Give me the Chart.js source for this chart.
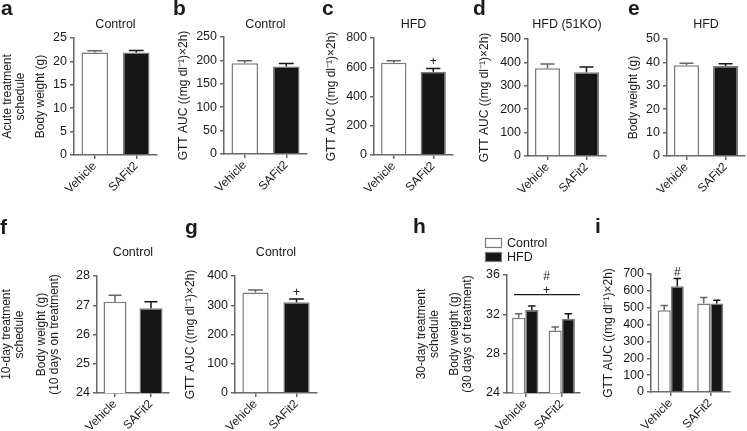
<!DOCTYPE html>
<html>
<head>
<meta charset="utf-8">
<script src="https://cdn.jsdelivr.net/npm/chart.js@4.4.1/dist/chart.umd.min.js"></script>
<style>
  html, body { margin: 0; padding: 0; background: #fff; }
  #fig { position: relative; width: 747px; height: 431px; overflow: hidden; }
  #fig canvas { position: absolute; }
</style>
</head>
<body>
<div id="fig"></div>
<script>
// valores
const categories = ['Vehicle', 'SAFit2'];
const dietGroups = ['Control', 'HFD'];
const gttLabel = 'GTT AUC ((mg dl\u207B\u00B9)\u00D72h)';

// a: agudo, peso control
const acuteBW = [21.9, 21.9];
const acuteBWErr = [0.35, 0.45];
// b: agudo, GTT control
const acuteGttCtrl = [194, 187];
const acuteGttCtrlErr = [5, 6.5];
// c: agudo, GTT HFD
const acuteGttHfd = [630, 570];
const acuteGttHfdErr = [15, 22];
// d: agudo, GTT HFD (51KO)
const acuteGttKo = [375, 358];
const acuteGttKoErr = [18, 22];
// e: agudo, peso HFD
const acuteBWHfd = [38.8, 38.5];
const acuteBWHfdErr = [0.8, 0.9];
// f: 10 días, peso
const day10BW = [27.12, 26.9];
const day10BWErr = [0.22, 0.22];
// g: 10 días, GTT
const day10Gtt = [344, 310];
const day10GttErr = [8, 11];
// h: 30 días, peso
const day30BWCtrl = [31.65, 30.35];
const day30BWCtrlErr = [0.4, 0.35];
const day30BWHfd = [32.45, 31.55];
const day30BWHfdErr = [0.4, 0.5];
const day30Bracket = { level: 34, marks: ['+', '#'] };
// i: 30 días, GTT
const day30GttCtrl = [485, 525];
const day30GttCtrlErr = [28, 36];
const day30GttHfd = [628, 525];
const day30GttHfdErr = [45, 19];

// rangos de los ejes [min, max, paso]
const rangeA = [0, 25, 5], rangeB = [0, 250, 50], rangeC = [0, 800, 200];
const rangeD = [0, 500, 100], rangeE = [0, 50, 10], rangeF = [24, 28, 1];
const rangeG = [0, 400, 100], rangeH = [24, 36, 4], rangeI = [0, 700, 100];

const FONT = "'Liberation Sans', Arial, Helvetica, sans-serif";
const INK = '#1a1a1a', AXIS = '#666666', EDGE = '#7a7a7a', WHITE = '#ffffff', BLACK = '#161616';
Chart.defaults.font.family = FONT;
Chart.defaults.font.size = 12;
Chart.defaults.color = INK;

const decor = {
    id: 'decor',
    afterDatasetsDraw(chart, args, o) {
        const ctx = chart.ctx, ys = chart.scales.y, area = chart.chartArea;
        ctx.save();
        ctx.lineWidth = 1.5;
        // barras de error (solo hacia arriba)
        chart.data.datasets.forEach((ds, di) => {
            chart.getDatasetMeta(di).data.forEach((bar, i) => {
                const v = ds.data[i], e = ds.errorBars[i];
                const top = ys.getPixelForValue(v + e);
                const half = Math.max(3.5, bar.width * 0.28);
                ctx.strokeStyle = bar.options.backgroundColor === WHITE ? AXIS : BLACK;
                ctx.beginPath();
                ctx.moveTo(bar.x, bar.y);
                ctx.lineTo(bar.x, top);
                ctx.moveTo(bar.x - half, top);
                ctx.lineTo(bar.x + half, top);
                ctx.stroke();
            });
        });
        ctx.fillStyle = INK;
        ctx.font = '12px ' + FONT;
        ctx.textAlign = 'center';
        ctx.textBaseline = 'alphabetic';
        // marcas de significación
        (o.marks || []).forEach(m => {
            const ds = chart.data.datasets[m.ds];
            const bar = chart.getDatasetMeta(m.ds).data[m.i];
            const top = ys.getPixelForValue(ds.data[m.i] + ds.errorBars[m.i]);
            ctx.fillText(m.text, bar.x, top - 3);
        });
        if (o.bracket) {
            const yy = ys.getPixelForValue(o.bracket.level);
            ctx.strokeStyle = INK;
            ctx.lineWidth = 1.2;
            ctx.beginPath();
            ctx.moveTo(area.left + 7, yy);
            ctx.lineTo(area.right, yy);
            ctx.stroke();
            const cx = (area.left + area.right) / 2 + 3;
            o.bracket.marks.forEach((t, k) => ctx.fillText(t, cx, yy - 1 - k * 13.5));
        }
        if (o.legend) {
            ctx.textAlign = 'left';
            ctx.textBaseline = 'middle';
            chart.data.datasets.forEach((ds, di) => {
                const by = o.legend.y + di * 14;
                ctx.fillStyle = ds.backgroundColor;
                ctx.fillRect(o.legend.x, by, 17, 10);
                ctx.strokeStyle = EDGE;
                ctx.lineWidth = 1.2;
                ctx.strokeRect(o.legend.x + 0.5, by + 0.5, 16, 9);
                ctx.fillStyle = INK;
                ctx.font = '12.5px ' + FONT;
                ctx.fillText(ds.label, o.legend.x + 22, by + 5.5);
            });
        }
        // título del panel y letra
        ctx.textBaseline = 'middle';
        ctx.textAlign = 'center';
        ctx.fillStyle = INK;
        ctx.font = '12.5px ' + FONT;
        if (o.title) ctx.fillText(o.title, (area.left + area.right) / 2, o.titleY);
        ctx.textAlign = 'left';
        ctx.textBaseline = 'alphabetic';
        ctx.font = 'bold 21px ' + FONT;
        ctx.fillText(o.letter, o.letterX, o.letterY);
        ctx.restore();
    }
};

function single(values, errs) {
    return [{
        data: values, errorBars: errs,
        backgroundColor: [WHITE, BLACK], borderColor: EDGE, borderWidth: 1.5,
        barPercentage: 0.64, categoryPercentage: 1
    }];
}

function pair(ctrl, ctrlErr, hfd, hfdErr, catPct) {
    return [
        { label: dietGroups[0], data: ctrl, errorBars: ctrlErr, backgroundColor: WHITE, borderColor: EDGE,
          borderWidth: 1.5, barPercentage: 1, categoryPercentage: catPct },
        { label: dietGroups[1], data: hfd, errorBars: hfdErr, backgroundColor: BLACK, borderColor: EDGE,
          borderWidth: 1.5, barPercentage: 1, categoryPercentage: catPct }
    ];
}

function noPad(s) { s.paddingLeft = 0; s.paddingRight = 0; s.paddingTop = 0; s.paddingBottom = 0; }

function makePanel(p) {
    const [bx, by, bw, bh] = p.box;
    const [L, T, R, B] = p.plot;
    const canvas = document.createElement('canvas');
    canvas.width = bw; canvas.height = bh;
    canvas.style.left = bx + 'px'; canvas.style.top = by + 'px';
    document.getElementById('fig').appendChild(canvas);

    const titleFont = { size: 12, lineHeight: '13px' };
    const yLeft = p.sched ? p.yTitleX - 8 : bx;
    const scales = {
        x: {
            type: 'category', labels: categories, offset: true,
            grid: { offset: false, drawOnChartArea: false, drawTicks: true, tickLength: 4, color: AXIS, lineWidth: 1.5 },
            border: { color: AXIS, width: 1.5 },
            ticks: { minRotation: 45, maxRotation: 45, padding: 0, color: INK, font: { size: 12 } },
            afterFit: s => { s.height = by + bh - B; noPad(s); }
        },
        y: {
            type: 'linear', position: 'left', min: p.range[0], max: p.range[1],
            ticks: { stepSize: p.range[2], autoSkip: false, padding: 3, color: INK, font: { size: 12.5 } },
            grid: { drawOnChartArea: false, drawTicks: true, tickLength: 4, color: AXIS, lineWidth: 1.5 },
            border: { color: AXIS, width: 1.5 },
            title: { display: true, text: p.yTitle, color: INK, font: titleFont,
                     padding: { top: p.yTitleX - yLeft - 6.5, bottom: 0 } },
            afterFit: s => { s.width = L - yLeft; noPad(s); }
        }
    };
    if (p.sched) {
        scales.sched = {
            type: 'linear', position: 'left', weight: 10,
            grid: { display: false }, border: { display: false }, ticks: { display: false },
            title: { display: true, text: p.sched, color: INK, font: titleFont,
                     padding: { top: p.schedX - bx - 6.5, bottom: 0 } },
            afterFit: s => { s.width = yLeft - bx; noPad(s); }
        };
    }
    return new Chart(canvas.getContext('2d'), {
        type: 'bar',
        data: { labels: categories, datasets: p.datasets },
        options: {
            responsive: false, animation: false, devicePixelRatio: 1,
            layout: { padding: { left: 0, top: T - by, right: bx + bw - R, bottom: 0 } },
            scales: scales,
            plugins: {
                legend: { display: false }, tooltip: { enabled: false },
                decor: {
                    letter: p.letter, letterX: p.letterAt[0] - bx, letterY: p.letterAt[1] - by,
                    title: p.title, titleY: p.titleY - by,
                    marks: p.marks, bracket: p.bracket,
                    legend: p.legend ? { x: p.legend[0] - bx, y: p.legend[1] - by } : null
                }
            }
        },
        plugins: [decor]
    });
}

// fila superior: tratamiento agudo
makePanel({ box: [0, 0, 165, 215], plot: [74, 38, 157, 155], range: rangeA,
    sched: ['Acute treatment', 'schedule'], schedX: 8, yTitle: ['Body weight (g)'], yTitleX: 41,
    datasets: single(acuteBW, acuteBWErr), letter: 'a', letterAt: [1, 15], title: 'Control', titleY: 25 });
makePanel({ box: [165, 0, 150, 215], plot: [224, 37, 307, 154], range: rangeB,
    yTitle: [gttLabel], yTitleX: 184,
    datasets: single(acuteGttCtrl, acuteGttCtrlErr), letter: 'b', letterAt: [173, 15], title: 'Control', titleY: 25 });
makePanel({ box: [315, 0, 150, 215], plot: [374, 38, 453, 155], range: rangeC,
    yTitle: [gttLabel], yTitleX: 332,
    datasets: single(acuteGttHfd, acuteGttHfdErr), letter: 'c', letterAt: [322, 15], title: 'HFD', titleY: 25,
    marks: [{ ds: 0, i: 1, text: '+' }] });
makePanel({ box: [465, 0, 145, 215], plot: [528, 39, 606, 156], range: rangeD,
    yTitle: [gttLabel], yTitleX: 485,
    datasets: single(acuteGttKo, acuteGttKoErr), letter: 'd', letterAt: [473, 15], title: 'HFD (51KO)', titleY: 25 });
makePanel({ box: [610, 0, 137, 215], plot: [667, 39, 745, 156], range: rangeE,
    yTitle: ['Body weight (g)'], yTitleX: 634,
    datasets: single(acuteBWHfd, acuteBWHfdErr), letter: 'e', letterAt: [628, 15], title: 'HFD', titleY: 25 });

// fila inferior: 10 y 30 días
makePanel({ box: [0, 215, 175, 216], plot: [97, 276, 169, 393], range: rangeF,
    sched: ['10-day treatment', 'schedule'], schedX: 7,
    yTitle: ['Body weight (g)', '(10 days on treatment)'], yTitleX: 42,
    datasets: single(day10BW, day10BWErr), letter: 'f', letterAt: [0, 234], title: 'Control', titleY: 253 });
makePanel({ box: [175, 215, 155, 216], plot: [235, 276, 317, 393], range: rangeG,
    yTitle: [gttLabel], yTitleX: 191,
    datasets: single(day10Gtt, day10GttErr), letter: 'g', letterAt: [185, 234], title: 'Control', titleY: 253,
    marks: [{ ds: 0, i: 1, text: '+' }] });
makePanel({ box: [400, 215, 190, 216], plot: [507, 275, 580, 393], range: rangeH,
    sched: ['30-day treatment', 'schedule'], schedX: 422,
    yTitle: ['Body weight (g)', '(30 days of treatment)'], yTitleX: 455,
    datasets: pair(day30BWCtrl, day30BWCtrlErr, day30BWHfd, day30BWHfdErr, 0.72),
    letter: 'h', letterAt: [413, 233], bracket: day30Bracket, legend: [485, 238] });
makePanel({ box: [590, 215, 157, 216], plot: [651, 274, 730, 392], range: rangeI,
    yTitle: [gttLabel], yTitleX: 609,
    datasets: pair(day30GttCtrl, day30GttCtrlErr, day30GttHfd, day30GttHfdErr, 0.66),
    letter: 'i', letterAt: [595, 233], marks: [{ ds: 1, i: 0, text: '#' }] });
</script>
</body>
</html>
